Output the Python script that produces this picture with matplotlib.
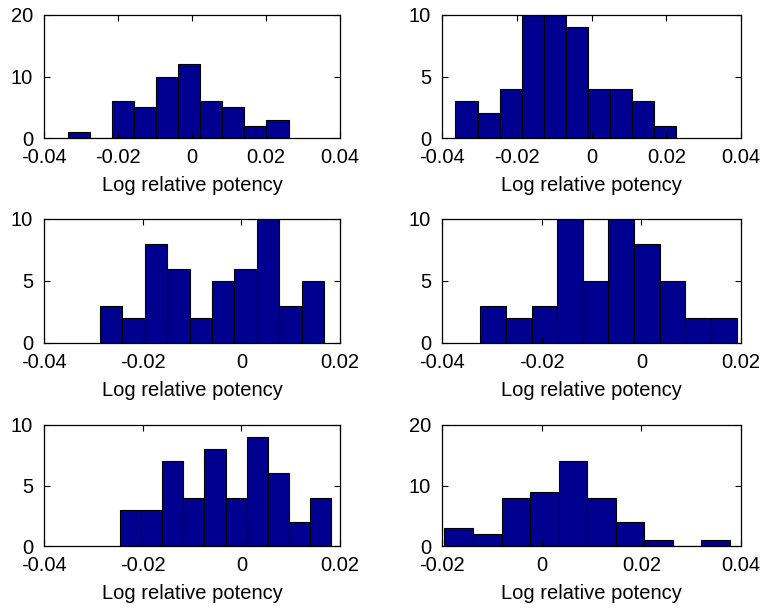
import matplotlib
matplotlib.use("Agg")
import matplotlib.pyplot as plt
import numpy as np

plt.rcParams['font.family'] = ['Liberation Sans', 'DejaVu Sans']

# bin range (first edge, last edge) and counts for each of the 10 bins
ranges = [(-0.0336, 0.0261), (-0.0364, 0.0226),
          (-0.0287, 0.0168), (-0.0323, 0.0191),
          (-0.0246, 0.0182), (-0.0195, 0.0377)]
counts = [[1, 0, 6, 5, 10, 12, 6, 5, 2, 3],
          [3, 2, 4, 10, 10, 9, 4, 4, 3, 1],
          [3, 2, 8, 6, 2, 5, 6, 10, 3, 5],
          [3, 2, 3, 10, 5, 10, 8, 5, 2, 2],
          [3, 3, 7, 4, 8, 4, 9, 6, 2, 4],
          [3, 2, 8, 9, 14, 8, 4, 1, 0, 1]]
xlims = [(-0.04, 0.04), (-0.04, 0.04),
         (-0.04, 0.02), (-0.04, 0.02),
         (-0.04, 0.02), (-0.02, 0.04)]
ylims = [20, 10, 10, 10, 10, 20]
xlabel = 'Log relative potency'

W, H = 766, 611
fig = plt.figure(figsize=(W / 100, H / 100), dpi=100)

cols = [(44, 340), (442, 741)]
rows = [(15, 138), (219, 343), (425, 546)]

for i in range(6):
    r, c = divmod(i, 2)
    x0, x1 = cols[c]
    y0, y1 = rows[r]
    ax = fig.add_axes([x0 / W, 1 - y1 / H, (x1 - x0) / W, (y1 - y0) / H])
    edges = np.linspace(ranges[i][0], ranges[i][1], len(counts[i]) + 1)
    ax.bar(edges[:-1], counts[i], width=np.diff(edges), align='edge',
           color='#000090', edgecolor='black', linewidth=0.8)
    ax.set_xlim(*xlims[i])
    ax.set_ylim(0, ylims[i])
    lo, hi = xlims[i]
    xt = np.round(np.arange(lo, hi + 1e-9, 0.02), 2)
    ax.set_xticks(xt)
    ax.set_xticklabels(['0' if abs(v) < 1e-9 else '%g' % v for v in xt])
    step = ylims[i] / 2
    ax.set_yticks([0, step, ylims[i]])
    ax.set_yticklabels(['%d' % v for v in [0, step, ylims[i]]])
    ax.tick_params(direction='in', length=4, width=0.8, top=True, right=True,
                   labelsize=14.5)
    ax.tick_params(axis='x', pad=7)
    ax.tick_params(axis='y', pad=8)
    ax.set_xlabel(xlabel, fontsize=14.5, labelpad=7)
    for s in ax.spines.values():
        s.set_linewidth(0.9)

fig.savefig('out.png', dpi=100)
